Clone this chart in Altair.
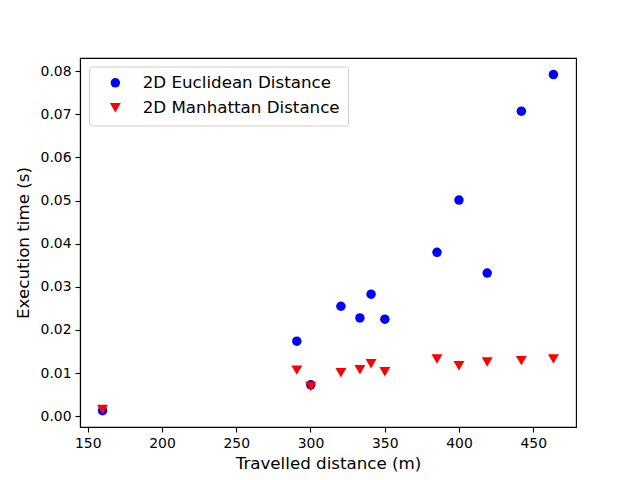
import altair as alt
import pandas as pd

distance = [160, 290.8, 300.2, 320.5, 333.3, 340.8, 350.1, 385.2, 400.0, 419.0, 442.0, 463.6]
euclidean = [0.0013, 0.0174, 0.0073, 0.0255, 0.0228, 0.0283, 0.0225, 0.0380, 0.0501, 0.0332, 0.0707, 0.0792]
manhattan = [0.0016, 0.0107, 0.0069, 0.0101, 0.0108, 0.0122, 0.0103, 0.0133, 0.0117, 0.0126, 0.0129, 0.0133]
series = ["2D Euclidean Distance", "2D Manhattan Distance"]

rows = []
for d, v in zip(distance, euclidean):
    rows.append({"dist": d, "time": v, "series": series[0]})
for d, v in zip(distance, manhattan):
    rows.append({"dist": d, "time": v, "series": series[1]})
df = pd.DataFrame(rows)

font = "DejaVu Sans"

chart = alt.Chart(df).mark_point(filled=True, opacity=1, strokeWidth=0).encode(
    x=alt.X("dist:Q",
            scale=alt.Scale(domain=[144.8, 478.8], nice=False, zero=False),
            axis=alt.Axis(title="Travelled distance (m)", values=[150, 200, 250, 300, 350, 400, 450],
                          format="d", titlePadding=6)),
    y=alt.Y("time:Q",
            scale=alt.Scale(domain=[-0.00248, 0.08303], nice=False, zero=False),
            axis=alt.Axis(title="Execution time (s)", values=[0, 0.01, 0.02, 0.03, 0.04, 0.05, 0.06, 0.07, 0.08],
                          format=".2f", titlePadding=8)),
    color=alt.Color("series:N", scale=alt.Scale(domain=series, range=["#0000ff", "#ff0000"]),
                    legend=alt.Legend(title=None, orient="none", legendX=9, legendY=8.5,
                                      strokeColor="#cccccc", fillColor="white", cornerRadius=3,
                                      padding=8, symbolOffset=10, labelOffset=19, rowPadding=7,
                                      labelFontSize=16.7, labelFont=font, symbolSize=95,
                                      labelLimit=400, labelColor="black")),
    shape=alt.Shape("series:N", scale=alt.Scale(domain=series, range=["circle", "triangle-down"])),
    size=alt.Size("series:N", scale=alt.Scale(domain=series, range=[90, 120]), legend=None),
    order=alt.Order("series:N"),
).properties(
    width=496, height=369,
    autosize=alt.AutoSizeParams(type="none"),
    padding={"left": 72, "top": 50, "right": 56, "bottom": 45},
).configure_view(
    stroke="black", strokeWidth=1.1
).configure_axis(
    grid=False, domainColor="black", domainWidth=1.1, tickColor="black", tickWidth=1.1, tickSize=5,
    labelFont=font, labelFontSize=13.9, labelColor="black", labelPadding=4,
    titleFont=font, titleFontSize=16.7, titleFontWeight="normal", titleColor="black",
)

chart.save("out.html", embed_options={"renderer": "svg", "actions": False})
